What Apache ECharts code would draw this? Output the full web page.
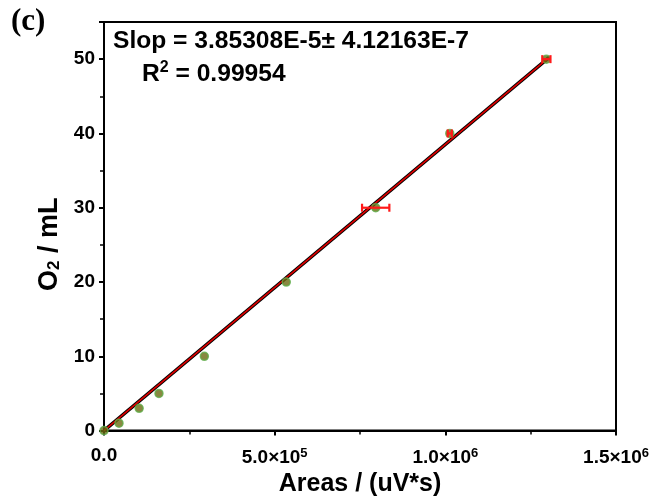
<!DOCTYPE html>
<html>
<head>
<meta charset="utf-8">
<script src="https://cdn.jsdelivr.net/npm/echarts@6/dist/echarts.min.js"></script>
<style>html,body{margin:0;padding:0;background:#fff;}#c{width:653px;height:502px;}</style>
</head>
<body>
<div id="c"></div>
<script>
// Data
var areas = [0, 44000, 103000, 161000, 294000, 534000, 796000, 1013000, 1296000];
var o2 = [0, 1, 3, 5, 10, 20, 30, 40, 50];
var areaErr = [0, 0, 0, 0, 0, 0, 40000, 6000, 12000];
var slope = 3.85308e-5;
var intercept = 0;
var fitRange = [0, 1305000];
var xTicks = ['0.0', '5.0×10|5', '1.0×10|6', '1.5×10|6'];
var slopeText = 'Slop = 3.85308E-5± 4.12163E-7';
var r2Text = '0.99954';

var chart = echarts.init(document.getElementById('c'));
var pts = areas.map(function (a, i) { return [a, o2[i]]; });
var errData = areas.map(function (a, i) { return [a, o2[i], areaErr[i]]; }).filter(function (d) { return d[2] > 0; });
var fitData = fitRange.map(function (x) { return [x, slope * x + intercept]; });
var F = 'Arial, "Liberation Sans", sans-serif';

chart.setOption({
  animation: false,
  backgroundColor: '#fff',
  grid: { left: 104, right: 37, top: 22, bottom: 64, show: true, borderColor: '#000', borderWidth: 2, containLabel: false },
  xAxis: {
    type: 'value', min: 0, max: 1500000, interval: 500000,
    name: 'Areas / (uV*s)', nameLocation: 'middle', nameGap: 39,
    nameTextStyle: { fontFamily: F, fontWeight: 'bold', fontSize: 25, color: '#000' },
    axisLine: { show: true, lineStyle: { color: '#000', width: 2 } },
    axisTick: { show: true, inside: false, length: 5, lineStyle: { color: '#000', width: 2 } },
    minorTick: { show: true, splitNumber: 2, length: 4, lineStyle: { color: '#000', width: 1.5 } },
    splitLine: { show: false },
    axisLabel: {
      margin: 16, color: '#000',
      formatter: function (v) {
        var i = Math.round(v / 500000);
        var t = xTicks[i];
        if (t.indexOf('|') < 0) return '{b|' + t + '}';
        var p = t.split('|');
        return '{b|' + p[0] + '}{s|' + p[1] + '}';
      },
      rich: {
        b: { fontFamily: F, fontWeight: 'bold', fontSize: 19, color: '#000' },
        s: { fontFamily: F, fontWeight: 'bold', fontSize: 13, color: '#000', verticalAlign: 'top', padding: [0, 0, 9, 0] }
      }
    }
  },
  yAxis: {
    type: 'value', min: 0, max: 55, interval: 10,
    name: '{a|O}{s|2}{a| / mL}', nameLocation: 'middle', nameGap: 36,
    nameTextStyle: {
      color: '#000',
      padding: [0, 36, 0, 0],
      rich: {
        a: { fontFamily: F, fontWeight: 'bold', fontSize: 27, color: '#000' },
        s: { fontFamily: F, fontWeight: 'bold', fontSize: 17, color: '#000', verticalAlign: 'bottom', padding: [9, 0, 0, 0] }
      }
    },
    axisLine: { show: true, lineStyle: { color: '#000', width: 2 } },
    axisTick: { show: true, inside: false, length: 5, lineStyle: { color: '#000', width: 2 } },
    minorTick: { show: true, splitNumber: 2, length: 4, lineStyle: { color: '#000', width: 1.5 } },
    splitLine: { show: false },
    axisLabel: { showMaxLabel: false, margin: 9, fontFamily: F, fontWeight: 'bold', fontSize: 19, color: '#000' }
  },
  graphic: [
    { type: 'text', left: 11, top: 6, style: { text: '(c)', font: 'bold 31px "Liberation Serif", "Times New Roman", serif', fill: '#000' } },
    { type: 'text', left: 113, top: 29, style: { text: slopeText, font: 'bold 24.6px ' + F, fill: '#000' } },
    { type: 'text', left: 142, top: 60, style: {
      text: '{b|R}{s|2}{b| = ' + r2Text + '}',
      rich: {
        b: { font: 'bold 24.6px ' + F, fill: '#000' },
        s: { font: 'bold 16px ' + F, fill: '#000', verticalAlign: 'top', padding: [0, 0, 12, 0] }
      }
    } }
  ],
  series: [
    {
      type: 'line', data: fitData, symbol: 'none', z: 3,
      lineStyle: { color: '#000', width: 3.5 }
    },
    {
      type: 'line', data: fitData, symbol: 'none', z: 4,
      lineStyle: { color: '#e00000', width: 1.6 }
    },
    {
      type: 'scatter', data: pts, symbol: 'circle', symbolSize: 8, z: 5,
      itemStyle: { color: '#6a6a12', borderColor: '#5fae4a', borderWidth: 1.5 }
    },
    {
      type: 'custom', z: 6,
      data: errData,
      renderItem: function (params, api) {
        var x = api.value(0), y = api.value(1), e = api.value(2);
        var p1 = api.coord([x - e, y]);
        var p2 = api.coord([x + e, y]);
        var h = 4;
        var st = { stroke: '#ff1a1a', lineWidth: 2.2 };
        return {
          type: 'group',
          children: [
            { type: 'line', shape: { x1: p1[0], y1: p1[1], x2: p2[0], y2: p2[1] }, style: st },
            { type: 'line', shape: { x1: p1[0], y1: p1[1] - h, x2: p1[0], y2: p1[1] + h }, style: st },
            { type: 'line', shape: { x1: p2[0], y1: p2[1] - h, x2: p2[0], y2: p2[1] + h }, style: st }
          ]
        };
      }
    }
  ]
});
</script>
</body>
</html>
